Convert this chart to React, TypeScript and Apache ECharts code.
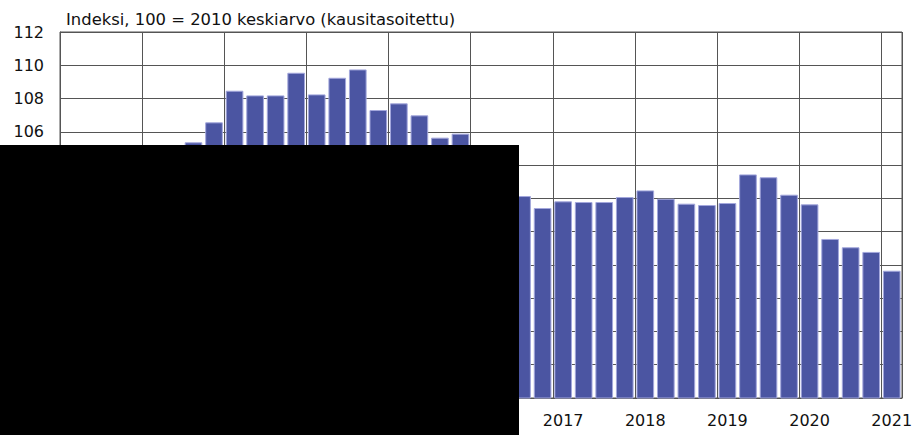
import React, { useEffect, useRef } from "react";
import * as echarts from "echarts";

const years = ["2011", "2012", "2013", "2014", "2015", "2016", "2017", "2018", "2019", "2020", "2021"];
const quarters = ["Q1", "Q2", "Q3", "Q4"];
const categories: string[] = [];
years.forEach((y) => quarters.forEach((q) => categories.push(y + q)));
categories.splice(41);

const indexValues = [
  101.8, 102.6, 103.4, 103.9,
  104.3, 104.9, 105.37, 106.57,
  108.47, 108.19, 108.19, 109.55,
  108.25, 109.25, 109.75, 107.31,
  107.71, 106.99, 105.65, 105.89,
  104.6, 103.2, 102.14, 101.42,
  101.82, 101.78, 101.78, 102.08,
  102.48, 101.98, 101.68, 101.6,
  101.72, 103.44, 103.27, 102.22,
  101.64, 99.56, 99.06, 98.78,
  97.65,
];

const yTicks = { min: 90, max: 112, interval: 2 };
const titleText = "Indeksi, 100 = 2010 keskiarvo (kausitasoitettu)";
const FONT = "DejaVu Sans";

export default function App() {
  const ref = useRef<HTMLDivElement>(null);
  useEffect(() => {
    if (!ref.current) return;
    const chart = echarts.init(ref.current, undefined, { renderer: "svg" });
    chart.setOption({
      animation: false,
      backgroundColor: "#ffffff",
      grid: {
        left: 60,
        right: 16,
        top: 32,
        bottom: 37,
        show: true,
        borderColor: "#555555",
        borderWidth: 1,
        containLabel: false,
      },
      xAxis: {
        type: "category",
        data: categories,
        boundaryGap: true,
        axisLine: { show: true, lineStyle: { color: "#555555", width: 1 } },
        axisTick: { show: false, interval: (i: number) => i % 4 === 0 },
        axisLabel: {
          interval: (i: number) => i % 4 === 0,
          formatter: (v: string) => v.slice(0, 4),
          fontFamily: FONT,
          fontSize: 16,
          color: "#111111",
          margin: 14,
        },
        splitLine: {
          show: true,
          interval: (i: number) => i % 4 === 0,
          lineStyle: { color: "#555555", width: 1 },
        },
      },
      yAxis: {
        type: "value",
        min: yTicks.min,
        max: yTicks.max,
        interval: yTicks.interval,
        axisLine: { show: true, lineStyle: { color: "#555555", width: 1 } },
        axisTick: { show: false },
        axisLabel: {
          fontFamily: FONT,
          fontSize: 16,
          color: "#111111",
          margin: 16,
        },
        splitLine: { show: true, lineStyle: { color: "#555555", width: 1 } },
      },
      series: [
        {
          type: "bar",
          data: indexValues,
          barCategoryGap: "14%",
          itemStyle: {
            color: "#4b55a2",
            borderColor: "#a3a7dc",
            borderWidth: 1,
          },
        },
      ],
      graphic: [
        {
          type: "text",
          left: 66,
          top: 11,
          style: {
            text: titleText,
            fontFamily: FONT,
            fontSize: 16.4,
            fill: "#111111",
          },
        },
        {
          type: "rect",
          shape: { x: 0, y: 145, width: 519, height: 290 },
          style: { fill: "#000000" },
          z: 100,
        },
      ],
    });
    return () => chart.dispose();
  }, []);
  return (
    <div
      ref={ref}
      style={{ position: "absolute", left: 0, top: 0, width: 918, height: 435 }}
    />
  );
}
